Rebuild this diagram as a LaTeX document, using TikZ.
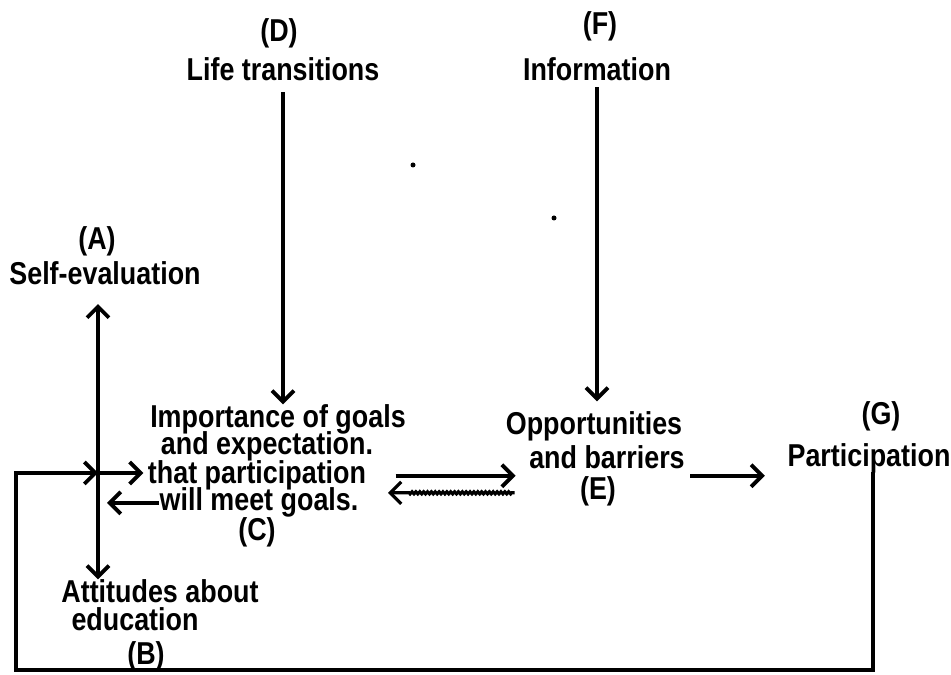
\documentclass[tikz,border=0pt]{standalone}
\usepackage{fontspec}
\newfontfamily\labelfont{Liberation Sans}[FakeStretch=0.85]
\usepackage{tikz}
\usetikzlibrary{arrows.meta,decorations.pathmorphing}

\tikzset{
  lbl/.style={font=\labelfont\bfseries\fontsize{9pt}{10pt}\selectfont, inner sep=0pt, anchor=base},
  link/.style={line width=1.1pt, ->},
  back/.style={line width=0.9pt, ->, decorate,
    decoration={zigzag, amplitude=0.3pt, segment length=1.1pt, pre length=0.3mm, post length=2mm}},
  >={Straight Barb[length=1.1mm,width=2.2mm]}
}

\begin{document}
\begin{tikzpicture}[x=0.1mm,y=-0.1mm]
\useasboundingbox (0,0) rectangle (951,675);

% factors at the top
\node[lbl] (d) at (279,42) {(D)};
\node[lbl] (dname) at (283,81) {Life transitions};
\node[lbl] (f) at (600,35) {(F)};
\node[lbl] (fname) at (597,81) {Information};

% self-evaluation and attitudes
\node[lbl] (a) at (97,250) {(A)};
\node[lbl] (aname) at (105,285) {Self-evaluation};
\node[lbl] (b1) at (160,603) {Attitudes about};
\node[lbl] (b2) at (135,631) {education};
\node[lbl] (b) at (146,665) {(B)};

% goals and expectation
\node[lbl] (c1) at (278,428) {Importance of goals};
\node[lbl] (c2) at (267,455) {and expectation.};
\node[lbl] (c3) at (257,484) {that participation};
\node[lbl] (c4) at (259,511) {will meet goals.};
\node[lbl] (c) at (257,541) {(C)};

% opportunities and participation
\node[lbl] (e1) at (594,435) {Opportunities};
\node[lbl] (e2) at (607,468) {and barriers};
\node[lbl] (e) at (598,500) {(E)};
\node[lbl] (g) at (881,425) {(G)};
\node[lbl] (gname) at (869,467) {Participation};

\coordinate (hub) at (98,473);
\path (e2.west |- e.west) ++(-14,1) coordinate (eback);

\draw[link, shorten <=1mm] (dname.south) -- (dname.south |- c1.north);
\draw[link, shorten <=0.5mm, shorten >=1mm] (fname.south) -- (fname.south |- e1.north);
\draw[link, <->, shorten <=1.8mm] (aname.south -| hub) -- (hub |- b1.north);

% feedback loop
\draw[link, line cap=rect] (gname.south -| 873,0) -- (873,670) -| (16,473) -- (hub);
\draw[link, shorten >=0.4mm] (hub) -- (c3.west |- hub);
\draw[link, shorten >=0.9mm] (c4.west) -- (c4.west -| hub);

\draw[link, shorten <=2.9mm, shorten >=1.3mm] (c3.east) -- (e2.west |- c3.east);
\draw[back] (eback) -- (eback -| 388,0);
\draw[link, shorten <=0.5mm, shorten >=2.2mm] (e2.east |- c3.east) -- (gname.west |- c3.east);

% specks
\fill (413,165) circle[radius=0.25mm];
\fill (554,218) circle[radius=0.25mm];
\end{tikzpicture}
\end{document}
